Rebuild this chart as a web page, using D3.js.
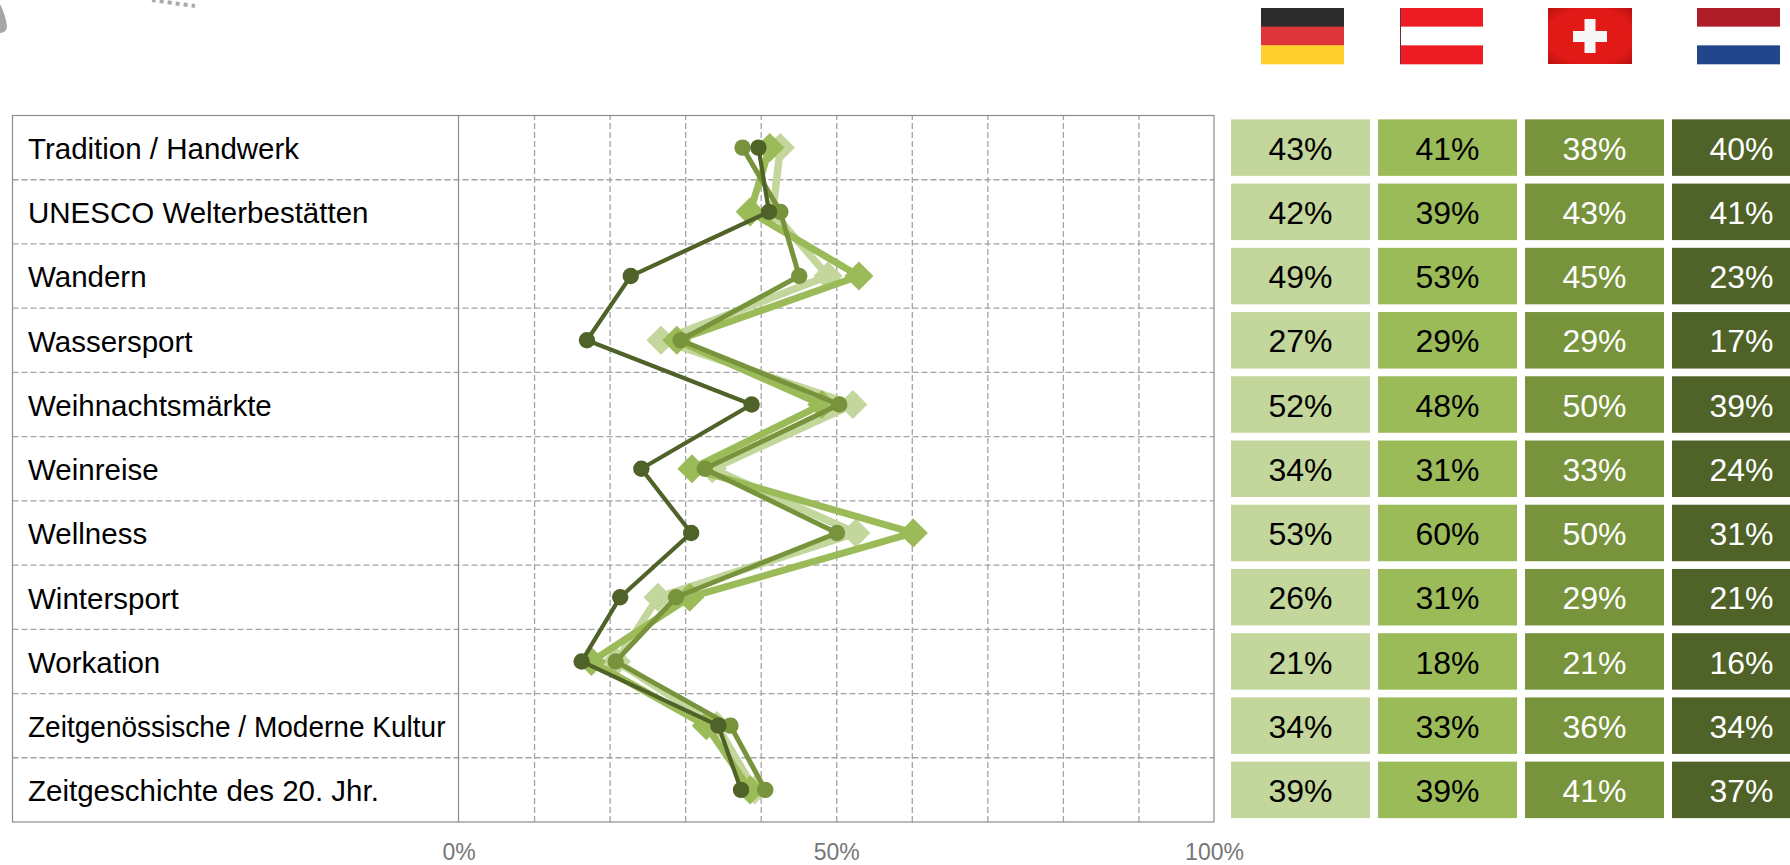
<!DOCTYPE html>
<html>
<head>
<meta charset="utf-8">
<script src="https://cdn.jsdelivr.net/npm/d3@7"></script>
<style>
  body { margin: 0; background: #fff; }
  svg { display: block; font-family: "Liberation Sans", Arial, sans-serif; }
  .frame { fill: none; stroke: #8c8c8c; stroke-width: 1.2; }
  .grid line { stroke: #a3a3a3; stroke-width: 1.3; stroke-dasharray: 6 3; }
  .grid path, .labels path, .labels line { display: none; }
  .labels text { font-size: 23px; fill: #767676; font-family: "Liberation Sans", Arial, sans-serif; }
  .row-label { font-size: 29.5px; fill: #000; }
  .cell-label { font-size: 32px; }
</style>
</head>
<body>
<script>
var categories = [
  "Tradition / Handwerk",
  "UNESCO Welterbestätten",
  "Wandern",
  "Wassersport",
  "Weihnachtsmärkte",
  "Weinreise",
  "Wellness",
  "Wintersport",
  "Workation",
  "Zeitgenössische / Moderne Kultur",
  "Zeitgeschichte des 20. Jhr."
];

var deValues = [42.6, 41.6, 48.9, 26.8, 52.2, 33.6, 52.6, 26.4, 20.9, 34.2, 39.2];
var atValues = [41.2, 38.6, 53.0, 28.9, 48.1, 30.9, 60.2, 30.6, 17.6, 32.8, 38.6];
var chValues = [37.6, 42.6, 45.1, 29.4, 50.4, 32.6, 50.1, 28.8, 20.8, 36.0, 40.6];
var nlValues = [39.7, 41.1, 22.8, 17.0, 38.8, 24.2, 30.8, 21.4, 16.3, 34.4, 37.4];

var gridTicks = [0, 10, 20, 30, 40, 50, 60, 70, 80, 90, 100];
var labelTicks = [0, 50, 100];

var colors = ["#c3d69b", "#9bbb59", "#77933c", "#4f6228"];
var textColors = ["#000", "#000", "#fff", "#fff"];

var series = [
  { key: "de", values: deValues, color: colors[0], stroke: 7.5, mark: "diamond" },
  { key: "at", values: atValues, color: colors[1], stroke: 7, mark: "diamond" },
  { key: "ch", values: chValues, color: colors[2], stroke: 5, mark: "circle" },
  { key: "nl", values: nlValues, color: colors[3], stroke: 4.2, mark: "circle" }
];

var width = 1790,
    height = 865,
    frameLeft = 12.5,
    plotLeft = 458.5,
    plotRight = 1214,
    plotTop = 115.5,
    plotBottom = 822;

var svg = d3.select("body").append("svg")
    .attr("width", width)
    .attr("height", height);

var x = d3.scaleLinear().domain([0, 100]).range([plotLeft, plotRight]);
var y = d3.scaleBand().domain(categories).range([plotTop, plotBottom]);

// leftovers of the cropped picture in the top left corner
svg.append("path")
    .attr("d", "M0,4 C3,10 6,18 7,26 C7,31 3,33 0,33 Z")
    .attr("fill", "#a6a6a6");
svg.append("path")
    .attr("d", "M152,0 C165,2 180,4 195,6")
    .attr("fill", "none")
    .attr("stroke", "#aaa")
    .attr("stroke-width", 4)
    .attr("stroke-dasharray", "4 4");

// flags
var flagW = 83, flagTop = 8, flagH = 56;
var defs = svg.append("defs");
var swissGlow = defs.append("radialGradient").attr("id", "swiss-glow").attr("r", 0.72);
swissGlow.append("stop").attr("offset", "70%").attr("stop-color", "#e11a17");
swissGlow.append("stop").attr("offset", "100%").attr("stop-color", "#b20f0f");

var stripes = [
  { left: 1261, bands: ["#2b2b2b", "#dd3539", "#ffcf2b"] },
  { left: 1400, bands: ["#ed1c24", "#fff", "#ed1c24"] },
  { left: 1697, bands: ["#ae1c28", "#fff", "#21468b"] }
];
stripes.forEach(function(f) {
  svg.append("g").selectAll("rect")
      .data(f.bands)
    .enter().append("rect")
      .attr("x", f.left)
      .attr("y", function(d, i) { return flagTop + i * flagH / 3; })
      .attr("width", flagW)
      .attr("height", flagH / 3 + 0.3)
      .attr("fill", function(d) { return d; });
});
svg.append("rect").attr("x", 1400).attr("y", flagTop).attr("width", 1).attr("height", flagH).attr("fill", "#7a2a2a");
svg.append("rect").attr("x", 1548).attr("y", flagTop).attr("width", 84).attr("height", flagH).attr("fill", "url(#swiss-glow)");
svg.append("rect").attr("x", 1573).attr("y", 31).attr("width", 34).attr("height", 11).attr("fill", "#f7f7f7");
svg.append("rect").attr("x", 1584.5).attr("y", 19).attr("width", 11).attr("height", 34).attr("fill", "#f7f7f7");

// grid
svg.append("g")
    .attr("class", "grid")
    .attr("transform", "translate(0," + plotBottom + ")")
    .call(d3.axisBottom(x)
      .tickValues(gridTicks.slice(1, -1))
      .tickSize(plotTop - plotBottom)
      .tickFormat(""));

svg.append("g")
    .attr("class", "grid")
  .selectAll("line")
    .data(categories.slice(1))
  .enter().append("line")
    .attr("x1", frameLeft)
    .attr("x2", plotRight)
    .attr("y1", function(d) { return y(d); })
    .attr("y2", function(d) { return y(d); });

svg.append("rect")
    .attr("class", "frame")
    .attr("x", frameLeft)
    .attr("y", plotTop)
    .attr("width", plotRight - frameLeft)
    .attr("height", plotBottom - plotTop);
svg.append("line")
    .attr("class", "frame")
    .attr("x1", plotLeft).attr("x2", plotLeft)
    .attr("y1", plotTop).attr("y2", plotBottom);

svg.append("g")
    .attr("class", "labels")
    .attr("transform", "translate(0," + plotBottom + ")")
    .call(d3.axisBottom(x)
      .tickValues(labelTicks)
      .tickSize(0)
      .tickPadding(22)
      .tickFormat(function(d) { return d + "%"; }));

svg.append("g").selectAll("text")
    .data(categories)
  .enter().append("text")
    .attr("class", "row-label")
    .attr("x", 28)
    .attr("y", function(d) { return y(d) + y.bandwidth() / 2 + 1; })
    .attr("dy", "0.35em")
    .text(function(d) { return d; })
    .each(function() {
      // long labels get squeezed into the label column
      var room = plotLeft - 28 - 13;
      if (this.getComputedTextLength() > room) {
        d3.select(this).attr("textLength", room).attr("lengthAdjust", "spacingAndGlyphs");
      }
    });

// lines and markers
var line = d3.line()
    .x(function(d) { return x(d); })
    .y(function(d, i) { return y(categories[i]) + y.bandwidth() / 2; });

var diamond = d3.symbol().type(d3.symbolDiamond2).size(540);

series.forEach(function(s) {
  var g = svg.append("g").attr("class", "series-" + s.key);

  g.append("path")
      .attr("d", line(s.values))
      .attr("fill", "none")
      .attr("stroke", s.color)
      .attr("stroke-width", s.stroke)
      .attr("stroke-linejoin", "round");

  if (s.mark === "diamond") {
    g.selectAll("path.mark")
        .data(s.values)
      .enter().append("path")
        .attr("class", "mark")
        .attr("d", diamond)
        .attr("fill", s.color)
        .attr("transform", function(d, i) {
          return "translate(" + x(d) + "," + (y(categories[i]) + y.bandwidth() / 2) + ")";
        });
  } else {
    g.selectAll("circle")
        .data(s.values)
      .enter().append("circle")
        .attr("r", 8.2)
        .attr("fill", s.color)
        .attr("cx", function(d) { return x(d); })
        .attr("cy", function(d, i) { return y(categories[i]) + y.bandwidth() / 2; });
  }
});

// value table on the right
var col = d3.scaleBand().domain(series.map(function(s) { return s.key; })).range([1231, 1819]);
var cellW = 139, cellH = 56.5;

series.forEach(function(s, c) {
  var g = svg.append("g").attr("class", "cells-" + s.key);
  var cell = g.selectAll("g")
      .data(s.values)
    .enter().append("g")
      .attr("transform", function(d, i) {
        return "translate(" + col(s.key) + "," + (y(categories[i]) + (y.bandwidth() - cellH) / 2) + ")";
      });

  cell.append("rect")
      .attr("width", s.key === "nl" ? width - col(s.key) : cellW)
      .attr("height", cellH)
      .attr("fill", s.color);

  cell.append("text")
      .attr("class", "cell-label")
      .attr("x", cellW / 2)
      .attr("y", cellH / 2 + 1)
      .attr("dy", "0.35em")
      .attr("text-anchor", "middle")
      .attr("fill", textColors[c])
      .text(function(d) { return Math.round(d) + "%"; });
});
</script>
</body>
</html>
